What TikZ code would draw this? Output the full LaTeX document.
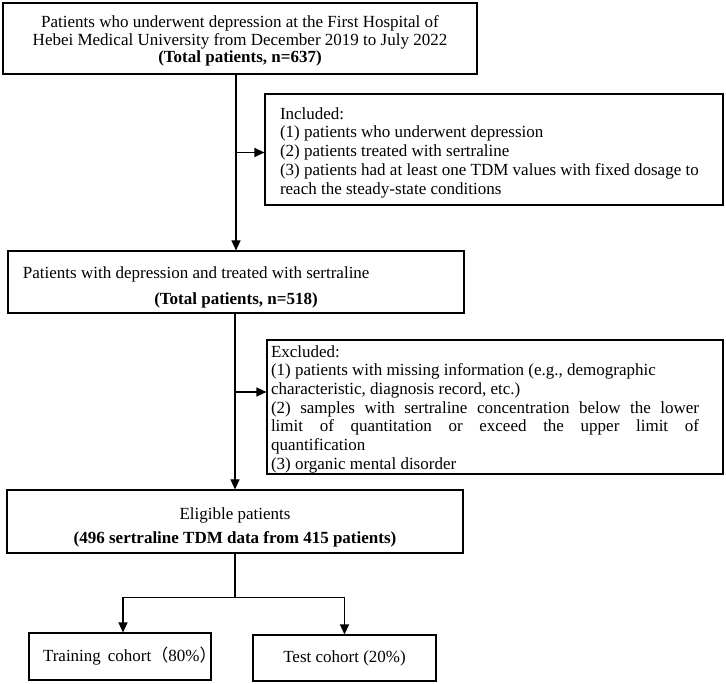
\documentclass[tikz,border=0pt]{standalone}
\usepackage{fontspec}
\setmainfont{Liberation Serif}
\newfontfamily\cjk{Noto Sans CJK SC}
\usetikzlibrary{arrows.meta}
\tikzset{
  box/.style={draw,line width=1.1pt,inner xsep=4pt,inner ysep=0pt,font=\fontsize{17}{18.7}\selectfont},
  conn/.style={line width=1.1pt},
  arr/.style={conn,-{Triangle[length=10pt,width=9pt]}}
}
\begin{document}
\begin{tikzpicture}[x=1pt,y=-1pt]
\useasboundingbox (0,0) rectangle (726,684);
% boxes
\node[box,font=\fontsize{17}{17.5}\selectfont,minimum width=474pt,minimum height=71pt,align=center](src) at (240,38.5){\rule{0pt}{17pt}Patients who underwent depression at the First Hospital of\\Hebei Medical University from December 2019 to July 2022\\\textbf{(Total patients, n=637)}};
\node[box,minimum width=458pt,minimum height=111pt](incl) at (494,149.5){\hspace*{11pt}\parbox{439pt}{\raggedright\rule{0pt}{18pt}Included:\\(1) patients who underwent depression\\(2) patients treated with sertraline\\(3) patients had at least one TDM values with fixed dosage to\\reach the steady-state conditions}};
\node[box,minimum width=456pt,minimum height=62pt](treat) at (236,282){\parbox{448pt}{\rule{0pt}{23pt}\hspace*{11pt}Patients with depression and treated with sertraline\\[7pt]\makebox[\linewidth]{\textbf{(Total patients, n=518)}}}};
\node[box,minimum width=456pt,minimum height=134pt](excl) at (495,407){\parbox{428pt}{\rule{0pt}{16pt}Excluded:\\(1) patients with missing information (e.g., demographic\\characteristic, diagnosis record, etc.)\\(2) samples with sertraline concentration below the lower\linebreak limit of quantitation or exceed the upper limit of\linebreak quantification\\(3) organic mental disorder}\hspace*{20pt}};
\node[box,minimum width=456pt,minimum height=63pt,align=center](elig) at (235,521.5){\rule{0pt}{24pt}Eligible patients\\[5pt]\textbf{(496 sertraline TDM data from 415 patients)}};
\node[box,minimum width=182pt,minimum height=47pt](train) at (120,656.5){\hspace*{10pt}\makebox[164pt][l]{Training\hspace{7pt}cohort{\cjk （}80\%{\cjk ）}}};
\node[box,minimum width=183pt,minimum height=46pt](test) at (344.5,658){Test cohort (20\%)};
% connectors
\coordinate (incl in) at ([yshift=-3pt]incl.west);
\coordinate (excl in) at ([yshift=15pt]excl.west);
\coordinate (split) at ([yshift=-44pt]elig.south);
\coordinate (train in) at ([xshift=3pt]train.north);
\draw[arr](treat.north |- src.south)--(treat.north);
\draw[arr](incl in -| treat.north)--(incl in);
\draw[arr](elig.north |- treat.south)--(elig.north);
\draw[arr](excl in -| elig.north)--(excl in);
\draw[conn](elig.south)--(split);
\draw[arr](split)-|(train in);
\draw[arr](split)-|(test.north);
\end{tikzpicture}
\end{document}
